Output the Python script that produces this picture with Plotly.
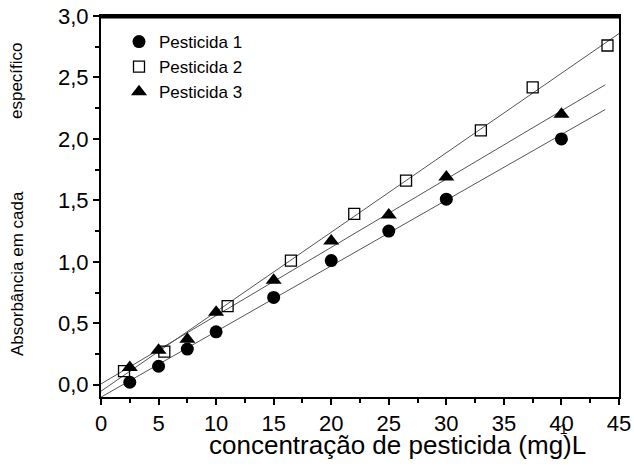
import numpy as np
import plotly.graph_objects as go

# ---- data ----
x1 = [2.5, 5, 7.5, 10, 15, 20, 25, 30, 40]
y1 = [0.02, 0.15, 0.29, 0.43, 0.71, 1.01, 1.25, 1.51, 2.00]

x2 = [2, 5.5, 11, 16.5, 22, 26.5, 33, 37.5, 44]
y2 = [0.11, 0.27, 0.64, 1.01, 1.39, 1.66, 2.07, 2.42, 2.76]

x3 = [2.5, 5, 7.5, 10, 15, 20, 25, 30, 40]
y3 = [0.14, 0.28, 0.37, 0.59, 0.85, 1.17, 1.38, 1.69, 2.20]

names = ["Pesticida 1", "Pesticida 2", "Pesticida 3"]
fit_ranges = [(-1, 43.8), (-1, 45.3), (-1, 43.8)]

x_ticks = [0, 5, 10, 15, 20, 25, 30, 35, 40, 45]
y_ticks = [0.0, 0.5, 1.0, 1.5, 2.0, 2.5, 3.0]

# ---- figure ----
FONT = "Liberation Sans, Arial, sans-serif"
fig = go.Figure()

series = [(x1, y1), (x2, y2), (x3, y3)]
marker_styles = [
    dict(symbol="circle", size=13, color="black", line=dict(width=0)),
    dict(symbol="square-open", size=11, color="black", line=dict(width=1.3)),
    dict(symbol="triangle-up", size=14, color="black", line=dict(width=0)),
]

# fitted lines first (beneath markers)
for (xs, ys), (a, b) in zip(series, fit_ranges):
    k, c = np.polyfit(xs, ys, 1)
    fx = np.array([a, b])
    fig.add_trace(go.Scatter(x=fx, y=k * fx + c, mode="lines",
                             line=dict(color="#555555", width=1),
                             showlegend=False, hoverinfo="skip"))

for (xs, ys), name, ms in zip(series, names, marker_styles):
    fig.add_trace(go.Scatter(x=xs, y=ys, mode="markers", name=name,
                             marker=ms))

W, H = 634, 472
L, R, T, B = 101, 15, 16, 75
pw, ph = W - L - R, H - T - B

def px_to_paper(px, py):
    """page pixel -> paper coordinates"""
    return (px - L) / pw, (H - B - py) / ph

fig.update_layout(
    template="none",
    width=W, height=H,
    margin=dict(l=L, r=R, t=T, b=B, autoexpand=False),
    paper_bgcolor="white", plot_bgcolor="white",
    separators=", ",
    font=dict(family=FONT, color="black", size=22),
    showlegend=True,
    legend=dict(x=px_to_paper(119, 0)[0], y=px_to_paper(0, 24)[1],
                xanchor="left", yanchor="top",
                bgcolor="rgba(0,0,0,0)", borderwidth=0,
                font=dict(size=17, family=FONT), tracegroupgap=0,
                itemwidth=30),
)

# top frame line (drawn explicitly as well)
fig.add_shape(type="line", xref="paper", yref="paper",
              x0=px_to_paper(100, 0)[0], x1=px_to_paper(620, 0)[0],
              y0=px_to_paper(0, 17)[1], y1=px_to_paper(0, 17)[1],
              line=dict(color="black", width=3), layer="above")

fig.update_xaxes(
    automargin=False, ticklabeloverflow="allow",
    range=[0, 45], tickvals=x_ticks, ticktext=[str(v) for v in x_ticks],
    showgrid=False, zeroline=False,
    showline=True, linecolor="black", linewidth=2, mirror=True,
    ticks="outside", ticklen=6, tickwidth=2, tickcolor="black",
    minor=dict(dtick=2.5, ticks="outside", ticklen=4, tickwidth=2,
               tickcolor="black", showgrid=False),
    tickfont=dict(size=22, family=FONT),
)
fig.update_yaxes(
    automargin=False, ticklabeloverflow="allow",
    range=[-0.1, 3.0], tickvals=y_ticks,
    ticktext=[f"{v:.1f}".replace(".", ",") for v in y_ticks],
    showgrid=False, zeroline=False,
    showline=True, linecolor="black", linewidth=2, mirror=True,
    ticks="outside", ticklen=6, tickwidth=2, tickcolor="black",
    minor=dict(dtick=0.25, tick0=0, ticks="outside", ticklen=4, tickwidth=2,
               tickcolor="black", showgrid=False),
    tickfont=dict(size=22, family=FONT),
)

# axis titles as annotations
ax, ay = px_to_paper(397, 445)
fig.add_annotation(text="concentração de pesticida (mg)L", x=ax, y=ay,
                   xref="paper", yref="paper", showarrow=False,
                   xanchor="center", yanchor="middle",
                   font=dict(size=26, family=FONT))
sx, sy = px_to_paper(561, 429)
fig.add_annotation(text="-1", x=sx, y=sy, xref="paper", yref="paper",
                   showarrow=False, xanchor="center", yanchor="middle",
                   font=dict(size=14, family=FONT))
tx, ty1 = px_to_paper(17, 274)
_, ty2 = px_to_paper(17, 81)
fig.add_annotation(text="Absorbância em cada", x=tx, y=ty1, xref="paper",
                   yref="paper", showarrow=False, textangle=-90,
                   xanchor="center", yanchor="middle",
                   font=dict(size=17, family=FONT))
fig.add_annotation(text="específico", x=tx, y=ty2, xref="paper",
                   yref="paper", showarrow=False, textangle=-90,
                   xanchor="center", yanchor="middle",
                   font=dict(size=17, family=FONT))

fig.write_html("out.html",
               config={"displayModeBar": False},
               post_script="document.body.style.margin='0px';"
                           "document.body.style.overflow='hidden';")
